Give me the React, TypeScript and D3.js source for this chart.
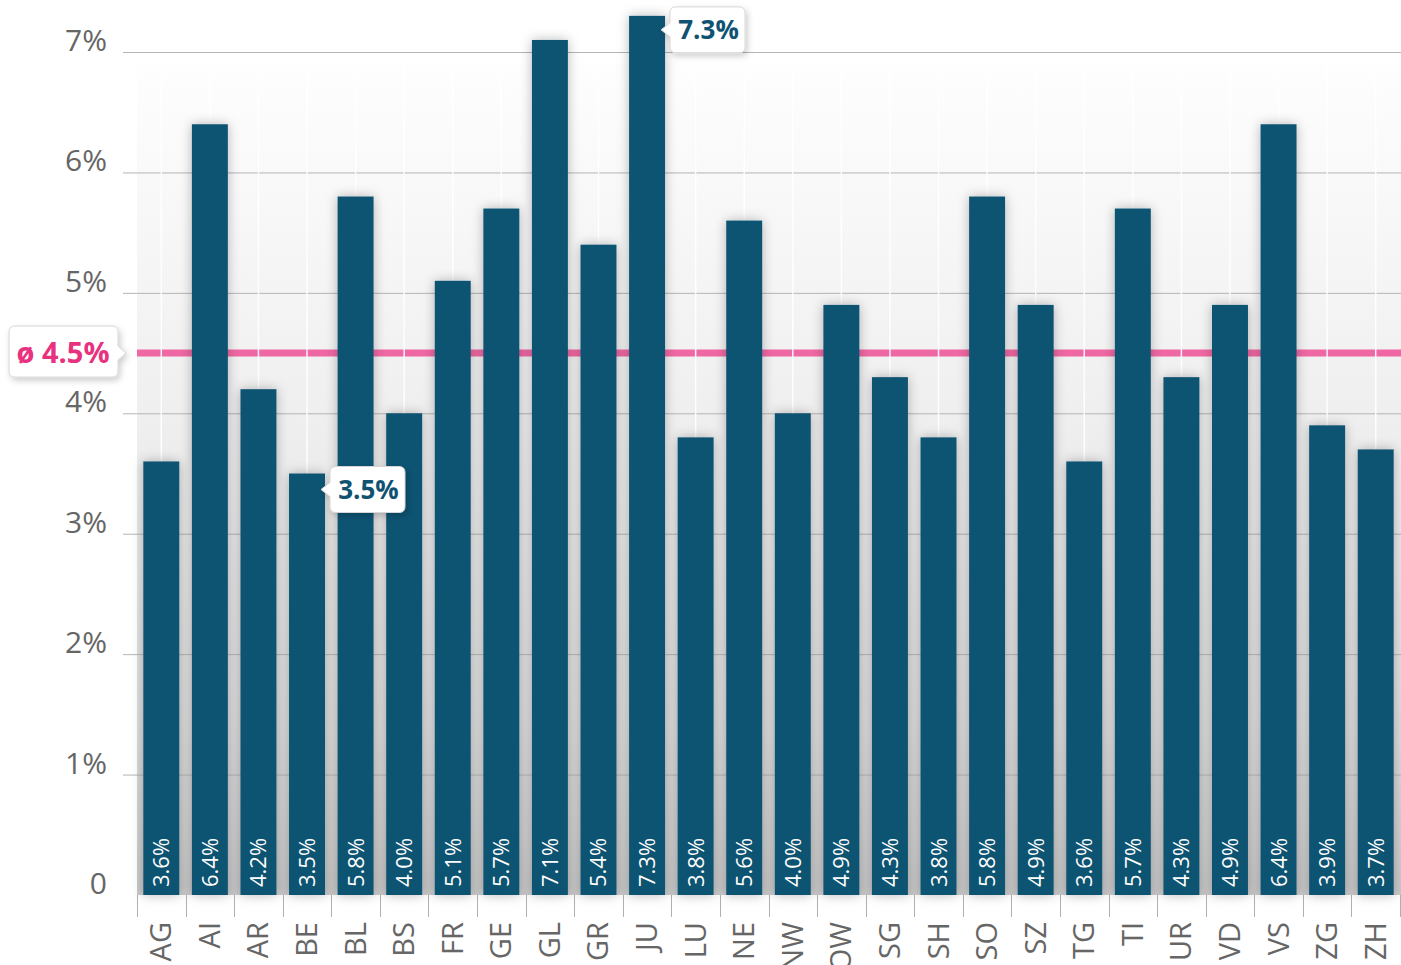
import React, { useEffect, useRef } from "react";
import * as d3 from "d3";

const categories = ["AG","AI","AR","BE","BL","BS","FR","GE","GL","GR","JU","LU","NE","NW","OW","SG","SH","SO","SZ","TG","TI","UR","VD","VS","ZG","ZH"];
const values = [3.6,6.4,4.2,3.5,5.8,4.0,5.1,5.7,7.1,5.4,7.3,3.8,5.6,4.0,4.9,4.3,3.8,5.8,4.9,3.6,5.7,4.3,4.9,6.4,3.9,3.7];
const yTicks = [0,1,2,3,4,5,6,7];
const average = 4.5;
const minCategory = "BE";
const maxCategory = "JU";

const W = 1401, H = 965;
const BAR = "#0f5272";
const PINK = "#ef68a3";
const FONT = "'Open Sans', sans-serif";

export default function App() {
  const ref = useRef<SVGSVGElement>(null);
  useEffect(() => {
    document.body.style.margin = "0";
    const svg = d3.select(ref.current!);
    svg.selectAll("*").remove();
    const left = 137, right = 1400, top = 62, bottom = 895;
    const x = d3.scaleBand<string>().domain(categories).range([left, right]).paddingInner(0.26).paddingOuter(0.13);
    const y = d3.scaleLinear().domain([0, 7]).range([bottom, 52]);
    const step = x.step();

    const defs = svg.append("defs");
    const g = defs.append("linearGradient").attr("id", "bg").attr("x1", 0).attr("x2", 0).attr("y1", 0).attr("y2", 1);
    g.append("stop").attr("offset", 0).attr("stop-color", "#fefefe");
    g.append("stop").attr("offset", 0.45).attr("stop-color", "#eeeeef");
    g.append("stop").attr("offset", 0.8).attr("stop-color", "#dcdcdc");
    g.append("stop").attr("offset", 1).attr("stop-color", "#c8c8c8");
    const f = defs.append("filter").attr("id", "sh").attr("x", "-60%").attr("y", "-10%").attr("width", "220%").attr("height", "120%");
    f.append("feDropShadow").attr("dx", 0).attr("dy", 0).attr("stdDeviation", 6).attr("flood-color", "#000").attr("flood-opacity", 0.28);
    const f2 = defs.append("filter").attr("id", "sh2").attr("x", "-20%").attr("y", "-30%").attr("width", "140%").attr("height", "170%");
    f2.append("feDropShadow").attr("dx", 2).attr("dy", 3).attr("stdDeviation", 3).attr("flood-color", "#000").attr("flood-opacity", 0.2);

    svg.append("rect").attr("x", left).attr("y", top).attr("width", W - left).attr("height", bottom - top).attr("fill", "url(#bg)");

    // horizontal grid
    svg.append("g").selectAll("line").data(yTicks.filter(t => t > 0)).join("line")
      .attr("x1", 123).attr("x2", W).attr("y1", d => y(d) + 0.5).attr("y2", d => y(d) + 0.5)
      .attr("stroke", "#b4b4b4").attr("stroke-width", 1);

    // average line (behind bars)
    svg.append("line").attr("x1", left).attr("x2", W).attr("y1", y(average)).attr("y2", y(average))
      .attr("stroke", PINK).attr("stroke-width", 7);

    // vertical white lines at band centers
    svg.append("g").selectAll("line").data(categories).join("line")
      .attr("x1", d => x(d)! + x.bandwidth() / 2).attr("x2", d => x(d)! + x.bandwidth() / 2)
      .attr("y1", top).attr("y2", bottom).attr("stroke", "#ffffff").attr("stroke-opacity", 0.9).attr("stroke-width", 1.5);

    // y labels
    svg.append("g").selectAll("text").data(yTicks).join("text")
      .attr("x", 107).attr("y", d => y(d) - 1).attr("text-anchor", "end")
      .attr("font-family", FONT).attr("font-weight", 400).attr("font-size", 30).attr("fill", "#666")
      .text(d => d === 0 ? "0" : `${d}%`);

    // x ticks
    const tickXs = d3.range(categories.length + 1).map(i => left + i * step);
    svg.append("g").selectAll("line").data(tickXs).join("line")
      .attr("x1", d => Math.round(d) + 0.5).attr("x2", d => Math.round(d) + 0.5).attr("y1", bottom).attr("y2", 917)
      .attr("stroke", "#b0b0b0").attr("stroke-width", 1);

    // bars
    svg.append("g").attr("filter", "url(#sh)").selectAll("rect").data(categories).join("rect")
      .attr("x", d => x(d)!).attr("width", x.bandwidth())
      .attr("y", (d, i) => y(values[i])).attr("height", (d, i) => bottom - y(values[i]))
      .attr("fill", BAR);

    // value labels
    svg.append("g").selectAll("text").data(categories).join("text")
      .attr("transform", d => `translate(${x(d)! + x.bandwidth() / 2 + 8},887) rotate(-90)`)
      .attr("font-family", FONT).attr("font-weight", 400).attr("font-size", 22).attr("fill", "#fff")
      .text((d, i) => `${values[i].toFixed(1)}%`);

    // category labels
    svg.append("g").selectAll("text").data(categories).join("text")
      .attr("transform", d => `translate(${x(d)! + x.bandwidth() / 2 + 10},922) rotate(-90)`)
      .attr("text-anchor", "end")
      .attr("font-family", FONT).attr("font-weight", 400).attr("font-size", 29).attr("fill", "#666")
      .text(d => d);

    // average label
    const ay = y(average);
    const avg = svg.append("g").attr("filter", "url(#sh2)");
    avg.append("path")
      .attr("d", `M15,${ay - 27} H112 Q118,${ay - 27} 118,${ay - 21} V${ay - 7} L126,${ay} L118,${ay + 7} V${ay + 18} Q118,${ay + 24} 112,${ay + 24} H15 Q9,${ay + 24} 9,${ay + 18} V${ay - 21} Q9,${ay - 27} 15,${ay - 27} Z`)
      .attr("fill", "#fff").attr("stroke", "#d6d6d6").attr("stroke-width", 1);
    svg.append("text").attr("x", 63).attr("y", ay + 10).attr("text-anchor", "middle")
      .attr("font-family", FONT).attr("font-weight", 700).attr("font-size", 29).attr("fill", "#e8317f")
      .text(`ø ${average.toFixed(1)}%`);

    // callouts
    const callout = (cat: string, tipY: number) => {
      const i = categories.indexOf(cat);
      const tipX = x(cat)! + x.bandwidth() - 4;
      const bx = tipX + 9, bw = 75, bh = 46, by = tipY - 23;
      const cg = svg.append("g").attr("filter", "url(#sh2)");
      cg.append("path")
        .attr("d", `M${bx + 6},${by} H${bx + bw - 6} Q${bx + bw},${by} ${bx + bw},${by + 6} V${by + bh - 6} Q${bx + bw},${by + bh} ${bx + bw - 6},${by + bh} H${bx + 6} Q${bx},${by + bh} ${bx},${by + bh - 6} V${tipY + 7} L${tipX},${tipY} L${bx},${tipY - 7} V${by + 6} Q${bx},${by} ${bx + 6},${by} Z`)
        .attr("fill", "#fff").attr("stroke", "#d6d6d6").attr("stroke-width", 1);
      svg.append("text").attr("x", bx + bw / 2 + 1).attr("y", tipY + 9).attr("text-anchor", "middle")
        .attr("font-family", FONT).attr("font-weight", 700).attr("font-size", 26).attr("fill", BAR)
        .text(`${values[i].toFixed(1)}%`);
    };
    callout(minCategory, y(values[categories.indexOf(minCategory)]) + 16);
    callout(maxCategory, y(values[categories.indexOf(maxCategory)]) + 14);
  }, []);
  return <svg ref={ref} width={W} height={H} style={{ display: "block" }} />;
}
